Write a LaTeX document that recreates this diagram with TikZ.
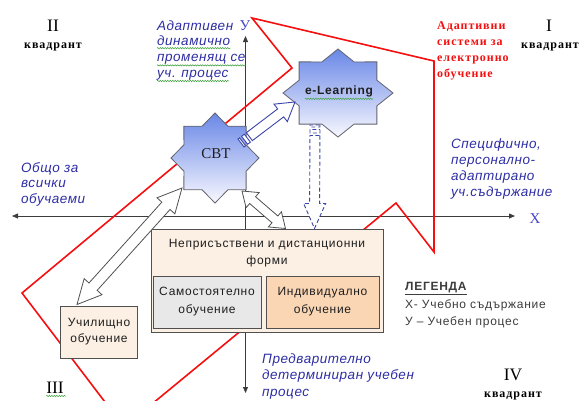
\documentclass[tikz,border=0pt]{standalone}
\usepackage{fontspec}
\setmainfont{Liberation Serif}
\setsansfont{Liberation Sans}
\newfontfamily\notesans[LetterSpace=4]{Liberation Sans}
\newfontfamily\boxsans[LetterSpace=6]{Liberation Sans}
\newfontfamily\wideserif[LetterSpace=8]{Liberation Serif}
\usetikzlibrary{calc,arrows.meta,decorations.pathmorphing}

\definecolor{axisgray}{RGB}{60,60,60}
\definecolor{noteblue}{RGB}{45,45,165}
\definecolor{axisblue}{RGB}{70,70,200}
\definecolor{zonered}{RGB}{245,15,15}
\definecolor{paleorange}{RGB}{252,240,228}
\definecolor{peach}{RGB}{250,214,180}
\definecolor{boxgray}{RGB}{232,232,232}
\definecolor{starblue}{RGB}{105,135,230}
\definecolor{starwhite}{RGB}{248,248,255}
\definecolor{stargray}{RGB}{100,100,110}
\definecolor{arrowblue}{RGB}{60,70,170}
\definecolor{edgegray}{RGB}{80,80,80}
\definecolor{textdark}{RGB}{30,30,30}
\definecolor{legendgray}{RGB}{60,60,60}
\definecolor{spellgreen}{RGB}{60,160,60}

% block arrow: style, from, to, shaft half width, head half width, head length
\newcommand{\blockarrow}[6]{%
  \coordinate (ba-base) at ($(#3)!#6!(#2)$);
  \path[#1] ($(#2)!#4!90:(#3)$) -- ($(ba-base)!#4!-90:(#2)$) -- ($(ba-base)!#5!-90:(#2)$)
    -- (#3) -- ($(ba-base)!#5!90:(#2)$) -- ($(ba-base)!#4!90:(#2)$) -- ($(#2)!#4!-90:(#3)$) -- cycle;}

% block arrow with two bars at its tail
\newcommand{\stripedarrow}[6]{%
  \coordinate (sa-a) at ($(#2)!2pt!(#3)$);
  \coordinate (sa-b) at ($(#2)!4.5pt!(#3)$);
  \coordinate (sa-c) at ($(#2)!8pt!(#3)$);
  \coordinate (sa-d) at ($(#2)!10.5pt!(#3)$);
  \path[#1] ($(#2)!#4!90:(#3)$) -- ($(sa-a)!#4!-90:(#2)$) -- ($(sa-a)!#4!90:(#2)$) -- ($(#2)!#4!-90:(#3)$) -- cycle;
  \path[#1] ($(sa-b)!#4!90:(#3)$) -- ($(sa-c)!#4!-90:(#2)$) -- ($(sa-c)!#4!90:(#2)$) -- ($(sa-b)!#4!-90:(#3)$) -- cycle;
  \blockarrow{#1}{sa-d}{#3}{#4}{#5}{#6}}

% block arrow with a head at both ends
\newcommand{\twinarrow}[6]{%
  \coordinate (ta-one) at ($(#2)!#6!(#3)$);
  \coordinate (ta-two) at ($(#3)!#6!(#2)$);
  \path[#1] (#2) -- ($(ta-one)!#5!90:(#3)$) -- ($(ta-one)!#4!90:(#3)$) -- ($(ta-two)!#4!-90:(#2)$)
    -- ($(ta-two)!#5!-90:(#2)$) -- (#3) -- ($(ta-two)!#5!90:(#2)$) -- ($(ta-two)!#4!90:(#2)$)
    -- ($(ta-one)!#4!-90:(#3)$) -- ($(ta-one)!#5!-90:(#3)$) -- cycle;}

\begin{document}
\begin{tikzpicture}[x=1pt, y=-1pt,
  notetext/.style={font=\notesans\itshape\fontsize{13.5}{16}\selectfont, text=noteblue, inner sep=0, anchor=base west},
  zonetext/.style={font=\wideserif\bfseries\fontsize{12}{16}\selectfont, text=zonered, inner sep=0, anchor=base west},
  quadnum/.style={font=\fontsize{17.5}{20}\selectfont, text=black, inner sep=0, anchor=base},
  quadword/.style={font=\wideserif\bfseries\fontsize{12}{14}\selectfont, text=black, inner sep=0, anchor=base},
  axislabel/.style={font=\fontsize{15}{18}\selectfont, text=axisblue, inner sep=0, anchor=base},
  legendtext/.style={font=\boxsans\fontsize{12}{14}\selectfont, text=legendgray, inner sep=0, anchor=base west},
  panel/.style={draw=edgegray, line width=1pt, fill=paleorange, inner sep=0},
  boxtext/.style={font=\boxsans\fontsize{12}{18}\selectfont, text=textdark},
  starshape/.style={draw=stargray, line width=0.8pt, top color=starblue, bottom color=starwhite},
  axisline/.style={draw=axisgray, line width=0.8pt, {Triangle[length=6pt,width=5pt]}-{Triangle[length=6pt,width=5pt]}},
  zoneline/.style={draw=zonered, line width=1.6pt, line join=miter},
  hollow/.style={draw=edgegray, fill=white, line width=0.8pt, line join=miter},
  bluehollow/.style={draw=arrowblue, fill=white, line width=0.9pt, line join=miter},
  bluedashed/.style={bluehollow, dash pattern=on 4pt off 2.5pt},
  spell/.style={draw=spellgreen, line width=0.5pt, decorate, decoration={snake, amplitude=0.7pt, segment length=2.5pt}}]

\useasboundingbox (0,0) rectangle (579,400);
\clip (0,0) rectangle (579,400);

% axes
\coordinate (xl) at (12,216);
\coordinate (xr) at (515,216);
\coordinate (yb) at (245.5,393);
\coordinate (yt) at (245.5,36);
\draw[axisline] (xl) -- (xr);
\draw[axisline] (yb) -- (yt);
\node[axislabel] (xlab) at (535,223) {X};
\node[axislabel] (ylab) at (245,30) {У};

% region of adaptive e-learning systems
\draw[zoneline] (252,18) -- (434,61) -- (434,252) -- (396,203) -- (124,427) -- (22,293) -- (292,68) -- cycle;

% eight-point stars
\path[starshape] plot[samples at={0,...,15}, variable=\k]
  ({215+44*(0.8825+0.1175*cos(\k*180))*sin(\k*22.5)}, {158-45*(0.8825+0.1175*cos(\k*180))*cos(\k*22.5)}) -- cycle;
\path[starshape] plot[samples at={0,...,15}, variable=\k]
  ({338+55*(0.8825+0.1175*cos(\k*180))*sin(\k*22.5)}, {93-44*(0.8825+0.1175*cos(\k*180))*cos(\k*22.5)}) -- cycle;
\node[font=\fontsize{15}{18}\selectfont, text=textdark, inner sep=0] (cbt) at (216,154) {CBT};
\node[font=\boxsans\bfseries\fontsize{12}{14}\selectfont, text=textdark, inner sep=0] (elearn) at (339,91) {e-Learning};
\draw[spell] ($(elearn.south west)+(0,2)$) -- ($(elearn.south east)+(0,2)$);

% forms of learning
\node[panel, minimum width=232pt, minimum height=103pt] (remote) at (267,280.5) {};
\node[boxtext, anchor=base] (remote-l1) at (267,247) {Неприсъствени и дистанционни};
\node[boxtext, anchor=base] (remote-l2) at (267,264) {форми};
\node[panel, fill=boxgray, minimum width=108pt, minimum height=52pt, boxtext, align=center] (self) at (207,302) {Самостоятелно\\обучение};
\node[panel, fill=peach, minimum width=113pt, minimum height=52pt, boxtext, align=center] (indiv) at (322.5,302) {Индивидуално\\обучение};
\node[panel, minimum width=77pt, minimum height=52pt, boxtext, font=\boxsans\fontsize{12}{16}\selectfont, align=center] (school) at (99,332) {Училищно\\обучение};

% connectors
\coordinate (cbt-ne) at ($(cbt)+(25,-11)$);
\coordinate (el-w) at ($(elearn)+(-44,11)$);
\stripedarrow{bluehollow}{cbt-ne}{el-w}{5pt}{11pt}{18pt}

\coordinate (el-s) at ($(elearn)+(-24,34)$);
\coordinate (remote-top) at ($(remote.north west)+(164,0)$);
\stripedarrow{bluedashed}{el-s}{remote-top}{5pt}{11pt}{25pt}

\coordinate (cbt-se) at ($(cbt)+(26,37)$);
\coordinate (remote-nw) at ($(remote.north west)+(135,0)$);
\twinarrow{hollow}{cbt-se}{remote-nw}{4.5pt}{10pt}{14pt}

\coordinate (cbt-sw) at ($(cbt)+(-34,34)$);
\coordinate (school-n) at ($(school.north west)+(17,-1)$);
\twinarrow{hollow}{cbt-sw}{school-n}{5.5pt}{12pt}{24pt}

% notes on the axes
\node[notetext] (adapt1) at (157,30) {Адаптивен};
\node[notetext] (adapt2) at (157,45.7) {динамично};
\node[notetext] (adapt3) at (157,61.4) {променящ се};
\node[notetext] (adapt4) at (157,77) {уч. процес};
\draw[spell] ($(adapt2.base west)+(0,2.5)$) -- ($(adapt2.base east)+(0,2.5)$);
\draw[spell] ($(adapt3.base west)+(0,4)$) -- ($(adapt3.base east)+(0,4)$);
\draw[spell] ($(adapt4.base west)+(0,4)$) -- ($(adapt4.base east)+(0,4)$);

\node[notetext] (spec1) at (451,148) {Специфично,};
\node[notetext] (spec2) at (451,164) {персонално-};
\node[notetext] (spec3) at (451,180) {адаптирано};
\node[notetext] (spec4) at (451,196) {уч.съдържание};

\node[notetext] (common1) at (21,172) {Общо за};
\node[notetext] (common2) at (21,187.5) {всички};
\node[notetext] (common3) at (21,203) {обучаеми};

\node[notetext] (fixed1) at (262,363) {Предварително};
\node[notetext] (fixed2) at (262,379.5) {детерминиран учебен};
\node[notetext] (fixed3) at (262,396) {процес};

\node[zonetext] (zone1) at (437,29) {Адаптивни};
\node[zonetext] (zone2) at (437,45) {системи за};
\node[zonetext] (zone3) at (437,61) {електронно};
\node[zonetext] (zone4) at (437,77) {обучение};

% quadrants
\node[quadnum] (q2) at (53,31) {II};
\node[quadword] (q2w) at (53,48) {квадрант};
\node[quadnum] (q1) at (549,31) {I};
\node[quadword] (q1w) at (550,48) {квадрант};
\node[quadnum] (q3) at (55,393) {III};
\draw[spell] ($(q3.base west)+(0,3)$) -- ($(q3.base east)+(2,3)$);
\node[quadnum] (q4) at (513,380) {IV};
\node[quadword] (q4w) at (513,397) {квадрант};

% legend
\node[legendtext, font=\boxsans\bfseries\fontsize{12}{14}\selectfont] (leg0) at (405,290) {\underline{ЛЕГЕНДА}};
\node[legendtext] (leg1) at (405,308) {Х- Учебно съдържание};
\node[legendtext] (leg2) at (405,325) {У – Учебен процес};
\end{tikzpicture}
\end{document}
